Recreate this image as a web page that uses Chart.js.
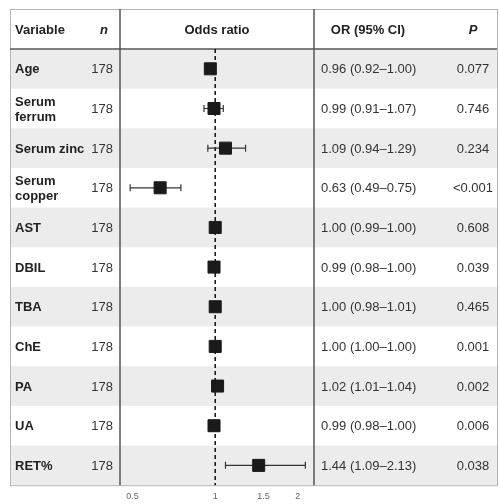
<!DOCTYPE html>
<html lang="en">
<head>
  <meta charset="UTF-8">
  <title>Odds ratio forest plot</title>
  <script src="https://cdn.jsdelivr.net/npm/chart.js"></script>
  <style>
    body { margin: 0; background: #fff; }
    .chart-box { width: 500px; height: 504px; position: relative; }
  </style>
</head>
<body>
<div class="chart-box">
  <canvas id="forestChart"></canvas>
</div>

<script>
  // Data
  const variables = ['Age', 'Serum\nferrum', 'Serum zinc', 'Serum\ncopper', 'AST', 'DBIL', 'TBA', 'ChE', 'PA', 'UA', 'RET%'];
  const sampleSizes = [178, 178, 178, 178, 178, 178, 178, 178, 178, 178, 178];
  const oddsRatios = [0.96, 0.99, 1.09, 0.63, 1.00, 0.99, 1.00, 1.00, 1.02, 0.99, 1.44];
  const ciLower = [0.92, 0.91, 0.94, 0.49, 0.99, 0.98, 0.98, 1.00, 1.01, 0.98, 1.09];
  const ciUpper = [1.00, 1.07, 1.29, 0.75, 1.00, 1.00, 1.01, 1.00, 1.04, 1.00, 2.13];
  const pValues = ['0.077', '0.746', '0.234', '<0.001', '0.608', '0.039', '0.465', '0.001', '0.002', '0.006', '0.038'];
  const xTicks = [0.5, 1, 1.5, 2];

  const fontFamily = '"Liberation Sans", Arial, sans-serif';
  const rows = variables.length;

  // Table, shading, borders, error bars and reference line
  const tablePlugin = {
    id: 'forestTable',
    beforeDatasetsDraw(chart) {
      const ctx = chart.ctx;
      const area = chart.chartArea;
      const x = chart.scales.x;
      const y = chart.scales.y;
      const left = 10, right = 497, top = 9;
      const rowH = Math.abs(y.getPixelForValue(2) - y.getPixelForValue(1));

      ctx.save();
      // stripes
      for (let i = 0; i < rows; i++) {
        if (i % 2 === 0) {
          const cy = y.getPixelForValue(i + 1);
          ctx.fillStyle = '#ececec';
          ctx.fillRect(left, cy - rowH / 2, right - left, rowH);
        }
      }

      // outer border
      ctx.strokeStyle = '#b5b5b5';
      ctx.lineWidth = 1;
      ctx.strokeRect(left + 0.5, top + 0.5, right - left, area.bottom - top);

      // header line and column lines
      ctx.strokeStyle = '#555';
      ctx.lineWidth = 1.5;
      ctx.beginPath();
      ctx.moveTo(left, area.top);
      ctx.lineTo(right, area.top);
      ctx.moveTo(area.left, top);
      ctx.lineTo(area.left, area.bottom);
      ctx.moveTo(area.right, top);
      ctx.lineTo(area.right, area.bottom);
      ctx.stroke();

      // dashed line at OR = 1
      const x1 = x.getPixelForValue(1);
      ctx.strokeStyle = '#111';
      ctx.lineWidth = 1.5;
      ctx.setLineDash([4, 3]);
      ctx.beginPath();
      ctx.moveTo(x1, area.top);
      ctx.lineTo(x1, area.bottom);
      ctx.stroke();
      ctx.setLineDash([]);

      // error bars
      ctx.strokeStyle = '#333';
      ctx.lineWidth = 1.2;
      for (let i = 0; i < rows; i++) {
        const cy = y.getPixelForValue(i + 1);
        const xl = x.getPixelForValue(ciLower[i]);
        const xr = x.getPixelForValue(ciUpper[i]);
        ctx.beginPath();
        ctx.moveTo(xl, cy);
        ctx.lineTo(xr, cy);
        ctx.moveTo(xl, cy - 3.5);
        ctx.lineTo(xl, cy + 3.5);
        ctx.moveTo(xr, cy - 3.5);
        ctx.lineTo(xr, cy + 3.5);
        ctx.stroke();
      }

      // header text
      const headY = (top + area.top) / 2 + 1;
      ctx.fillStyle = '#222';
      ctx.textBaseline = 'middle';
      ctx.font = 'bold 13px ' + fontFamily;
      ctx.textAlign = 'left';
      ctx.fillText('Variable', 15, headY);
      ctx.textAlign = 'center';
      ctx.fillText('Odds ratio', (area.left + area.right) / 2, headY);
      ctx.fillText('OR (95% CI)', 368, headY);
      ctx.font = 'italic bold 13px ' + fontFamily;
      ctx.fillText('n', 104, headY);
      ctx.fillText('P', 473, headY);

      // body text
      for (let i = 0; i < rows; i++) {
        const cy = y.getPixelForValue(i + 1);
        ctx.fillStyle = '#222';
        ctx.font = 'bold 13px ' + fontFamily;
        ctx.textAlign = 'left';
        const lines = variables[i].split('\n');
        lines.forEach((ln, k) => {
          ctx.fillText(ln, 15, cy + (k - (lines.length - 1) / 2) * 15 + 1);
        });
        ctx.fillStyle = '#333';
        ctx.font = '13px ' + fontFamily;
        ctx.textAlign = 'right';
        ctx.fillText(String(sampleSizes[i]), 113, cy + 1);
        ctx.textAlign = 'left';
        const orText = oddsRatios[i].toFixed(2) + ' (' + ciLower[i].toFixed(2) + '\u2013' + ciUpper[i].toFixed(2) + ')';
        ctx.fillText(orText, 321, cy + 1);
        ctx.textAlign = 'center';
        ctx.fillText(pValues[i], 473, cy + 1);
      }
      ctx.restore();
    }
  };

  new Chart(document.getElementById('forestChart'), {
    type: 'scatter',
    data: {
      datasets: [{
        label: 'Odds ratio',
        data: oddsRatios.map((v, i) => ({ x: v, y: i + 1 })),
        pointStyle: 'rect',
        pointRadius: 8.5,
        pointHoverRadius: 8.5,
        backgroundColor: '#1a1a1a',
        borderColor: '#1a1a1a',
        borderWidth: 1
      }]
    },
    options: {
      responsive: true,
      maintainAspectRatio: false,
      animation: false,
      layout: { padding: { left: 120, right: 186, top: 49, bottom: -4 } },
      plugins: { legend: { display: false }, tooltip: { enabled: false } },
      scales: {
        x: {
          type: 'logarithmic',
          min: 0.45,
          max: 2.29,
          afterBuildTicks: axis => { axis.ticks = xTicks.map(v => ({ value: v })); },
          grid: { display: false, drawTicks: false },
          border: { display: false },
          ticks: {
            padding: 6,
            color: '#666',
            font: { size: 9, family: fontFamily },
            callback: v => String(v)
          }
        },
        y: {
          type: 'linear',
          min: 0.5,
          max: rows + 0.5,
          reverse: true,
          display: false
        }
      }
    },
    plugins: [tablePlugin]
  });
</script>
</body>
</html>
